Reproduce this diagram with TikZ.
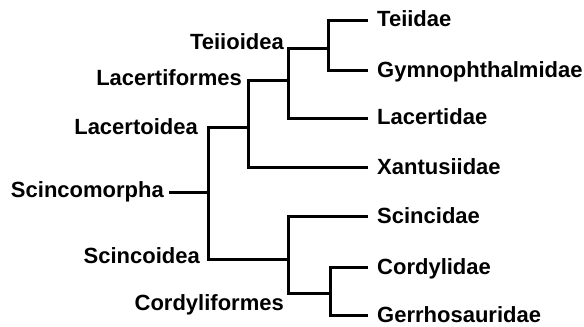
\documentclass[tikz,border=0pt]{standalone}
\usepackage{fontspec}
\setmainfont{Liberation Sans}
\begin{document}
\begin{tikzpicture}[x=1bp,y=-1bp,
  branch/.style={line width=3bp,line join=miter},
  lbl/.style={inner sep=0pt,text height=15.6bp,text depth=0pt,font=\fontsize{22bp}{24bp}\selectfont\bfseries}]
\useasboundingbox (0,0) rectangle (584,326);
% leaf ends
\coordinate (T) at (368,20);
\coordinate (G) at (368,70);
\coordinate (L) at (368,118);
\coordinate (X) at (368,167);
\coordinate (S) at (368,216);
\coordinate (C) at (368,267);
\coordinate (Ge) at (368,315);
% internal nodes
\coordinate (teii) at (328,48);
\coordinate (lacf) at (288,80);
\coordinate (laco) at (248,127);
\coordinate (root) at (208,192);
\coordinate (stub) at (169,192);
\coordinate (scio) at (288,259);
\coordinate (cord) at (330,293);
% branches
\draw[branch] (teii) |- (T);
\draw[branch] (teii) |- (G);
\draw[branch] (lacf) |- (teii);
\draw[branch] (lacf) |- (L);
\draw[branch] (laco) |- (lacf);
\draw[branch] (laco) |- (X);
\draw[branch] (root) |- (laco);
\draw[branch] (root) |- (scio);
\draw[branch] (stub) -- (root);
\draw[branch] (scio) |- (S);
\draw[branch] (scio) |- (cord);
\draw[branch] (cord) |- (C);
\draw[branch] (cord) |- (Ge);
% leaf labels
\node[lbl,anchor=west] (tT) at (377,19) {Teiidae};
\node[lbl,anchor=west] (tG) at (377,70) {Gymnophthalmidae};
\node[lbl,anchor=west] (tL) at (377,117) {Lacertidae};
\node[lbl,anchor=west] (tX) at (377,167) {Xantusiidae};
\node[lbl,anchor=west] (tS) at (377,216) {Scincidae};
\node[lbl,anchor=west] (tC) at (377,267) {Cordylidae};
\node[lbl,anchor=west] (tGe) at (377,315) {Gerrhosauridae};
% clade labels
\node[lbl,anchor=east] (nTeii) at (284,42) {Teiioidea};
\node[lbl,anchor=east] (nLacf) at (242,78) {Lacertiformes};
\node[lbl,anchor=east] (nLaco) at (198,127) {Lacertoidea};
\node[lbl,anchor=east] (nRoot) at (164,190) {Scincomorpha};
\node[lbl,anchor=east] (nScio) at (200,256) {Scincoidea};
\node[lbl,anchor=east] (nCord) at (284,303) {Cordyliformes};
\end{tikzpicture}
\end{document}
